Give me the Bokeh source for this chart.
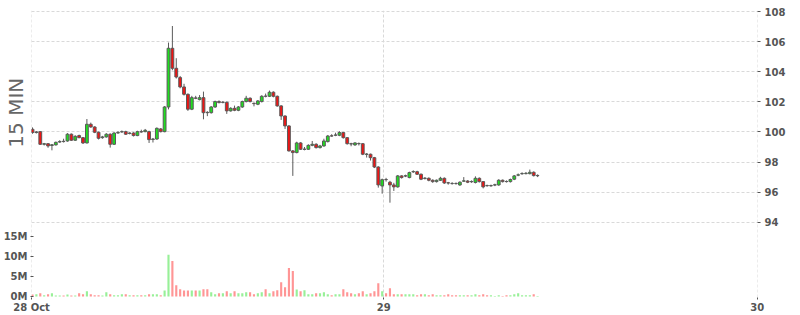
import math
from bokeh.plotting import figure
from bokeh.models import Range1d, LinearAxis, FixedTicker, ColumnDataSource
from bokeh.embed import file_html
from bokeh.resources import INLINE

# ---------------- data ----------------
opens = [100.18, 99.96, 100.02, 99.18, 99.22, 99.10, 99.14, 99.33, 99.38, 99.40,
         99.85, 99.45, 99.76, 99.62, 99.27, 100.51, 100.33, 99.98, 99.62, 99.67,
         99.85, 99.18, 99.93, 100.00, 100.02, 99.90, 99.93, 99.76, 100.02, 100.02,
         100.02, 99.50, 99.53, 100.20, 100.02, 101.66, 105.56, 104.23, 103.61, 102.99,
         102.50, 101.51, 102.26, 102.15, 102.28, 101.30, 101.28, 101.66, 102.02, 101.96,
         101.97, 101.40, 101.57, 101.44, 101.66, 102.02, 102.24, 101.90, 101.84, 102.02,
         102.38, 102.37, 102.64, 102.37, 101.73, 101.06, 100.40, 98.74, 98.63, 99.27,
         98.84, 98.85, 99.11, 99.18, 98.96, 99.07, 99.36, 99.74, 99.78, 99.78,
         99.96, 99.62, 99.22, 99.14, 99.23, 99.22, 98.51, 98.52, 98.29, 97.67,
         96.41, 96.84, 96.66, 96.48, 96.35, 97.08, 97.07, 96.97, 97.35, 97.36,
         97.19, 96.91, 96.92, 96.79, 96.70, 96.79, 96.92, 96.62, 96.58, 96.58,
         96.48, 96.73, 96.74, 96.69, 96.64, 96.92, 96.70, 96.44, 96.42, 96.47,
         96.48, 96.79, 96.71, 96.70, 96.86, 97.13, 97.22, 97.23, 97.23, 97.32,
         97.09]
closes = [99.96, 100.00, 99.18, 99.22, 99.07, 99.15, 99.31, 99.36, 99.36, 99.85,
          99.45, 99.71, 99.62, 99.27, 100.51, 100.33, 99.98, 99.58, 99.67, 99.85,
          99.18, 99.93, 99.96, 100.02, 99.85, 99.93, 99.76, 100.02, 100.00, 100.11,
          99.49, 99.53, 100.24, 100.02, 101.66, 105.56, 104.23, 103.65, 102.99, 102.50,
          101.51, 102.28, 102.24, 102.28, 101.28, 101.28, 101.66, 102.02, 101.95, 101.97,
          101.40, 101.57, 101.44, 101.66, 102.02, 102.24, 102.02, 101.88, 102.06, 102.37,
          102.37, 102.64, 102.37, 101.73, 101.06, 100.40, 98.74, 98.63, 99.27, 98.85,
          98.86, 99.11, 99.18, 98.96, 99.07, 99.40, 99.73, 99.73, 99.80, 99.96,
          99.62, 99.22, 99.20, 99.27, 99.22, 98.52, 98.53, 98.29, 97.67, 96.48,
          96.83, 96.83, 96.48, 96.35, 97.08, 96.97, 97.09, 97.30, 97.37, 97.19,
          96.86, 96.93, 96.79, 96.70, 96.79, 96.92, 96.61, 96.61, 96.57, 96.57,
          96.66, 96.75, 96.66, 96.71, 96.92, 96.70, 96.35, 96.43, 96.44, 96.49,
          96.79, 96.70, 96.70, 96.84, 97.08, 97.15, 97.24, 97.25, 97.32, 97.10,
          97.11]
highs = [100.30, 100.06, 100.06, 99.27, 99.26, 99.20, 99.36, 99.45, 99.55, 99.92,
         99.90, 99.78, 99.82, 99.66, 100.86, 100.62, 100.38, 100.02, 99.74, 99.92,
         99.90, 99.98, 100.05, 100.10, 100.08, 99.98, 99.98, 100.08, 100.15, 100.20,
         100.08, 99.60, 100.30, 100.26, 101.72, 105.94, 107.04, 104.90, 103.72, 103.20,
         102.56, 102.40, 102.40, 102.45, 102.68, 101.38, 101.72, 102.08, 102.10, 102.05,
         102.02, 101.64, 101.75, 101.72, 102.08, 102.40, 102.30, 101.96, 102.12, 102.44,
         102.55, 102.75, 102.70, 102.42, 101.78, 101.10, 100.45, 98.80, 99.35, 99.32,
         99.00, 99.18, 99.40, 99.25, 99.14, 99.55, 99.80, 99.85, 99.95, 100.05,
         100.00, 99.66, 99.28, 99.32, 99.30, 99.26, 98.60, 98.56, 98.34, 97.72,
         96.90, 96.95, 96.75, 96.62, 97.14, 97.12, 97.16, 97.36, 97.45, 97.42,
         97.24, 97.00, 96.98, 96.85, 96.84, 97.02, 96.98, 96.68, 96.66, 96.64,
         96.72, 97.00, 96.80, 96.78, 97.05, 96.98, 96.74, 96.50, 96.50, 96.56,
         96.86, 96.84, 96.78, 96.90, 97.14, 97.24, 97.32, 97.34, 97.50, 97.38,
         97.18]
lows = [99.88, 99.90, 99.14, 99.10, 98.95, 98.78, 99.10, 99.28, 99.30, 99.35,
        99.40, 99.40, 99.58, 99.20, 99.24, 100.28, 99.92, 99.50, 99.55, 99.62,
        98.96, 99.14, 99.88, 99.95, 99.80, 99.84, 99.70, 99.72, 99.95, 99.98,
        99.27, 99.30, 99.48, 99.97, 99.98, 101.50, 104.10, 103.55, 102.90, 102.42,
        101.40, 101.45, 102.18, 102.10, 100.84, 101.05, 101.22, 101.60, 101.90, 101.90,
        101.20, 101.35, 101.38, 101.38, 101.60, 101.96, 101.96, 101.70, 101.78, 101.96,
        102.30, 102.32, 102.30, 101.68, 100.80, 100.20, 98.70, 97.08, 98.58, 98.80,
        98.78, 98.80, 99.05, 98.90, 98.90, 99.02, 99.30, 99.68, 99.72, 99.72,
        99.56, 99.16, 99.05, 99.08, 99.10, 98.46, 98.30, 98.10, 97.60, 96.30,
        95.90, 96.70, 95.30, 96.08, 96.30, 96.90, 97.00, 96.92, 97.28, 97.14,
        96.80, 96.84, 96.72, 96.62, 96.64, 96.74, 96.55, 96.50, 96.50, 96.50,
        96.42, 96.68, 96.60, 96.62, 96.58, 96.64, 96.25, 96.36, 96.36, 96.40,
        96.42, 96.64, 96.64, 96.64, 96.80, 97.06, 97.16, 97.18, 97.18, 97.04,
        97.00]
volumes_m = [0.5, 0.58, 0.83, 0.33, 0.58, 0.83, 0.25, 0.25, 0.25, 0.5,
             0.25, 0.25, 0.83, 0.58, 1.33, 0.58, 0.33, 0.33, 0.25, 1.08,
             0.58, 0.33, 0.33, 0.58, 0.58, 0.33, 0.33, 0.33, 0.33, 0.33,
             0.58, 0.58, 0.58, 0.33, 1.5, 10.4, 8.83, 2.83, 1.83, 1.5,
             1.5, 1.5, 1.5, 1.5, 1.83, 1.83, 1.08, 0.58, 0.83, 0.83,
             1.33, 0.83, 1.33, 0.83, 0.83, 1.08, 1.08, 0.58, 0.83, 1.08,
             1.83, 0.83, 1.33, 1.58, 3.58, 2.33, 7.08, 6.33, 1.75, 1.33,
             1.58, 0.58, 0.58, 0.83, 0.83, 1.08, 0.58, 0.33, 0.58, 0.58,
             1.83, 1.08, 0.83, 0.58, 0.83, 1.33, 0.58, 0.83, 1.33, 3.33,
             1.33, 0.83, 2.08, 0.58, 0.58, 0.58, 0.58, 0.58, 0.58, 0.33,
             0.58, 0.58, 0.33, 0.58, 0.33, 0.33, 0.33, 0.58, 0.33, 0.33,
             0.33, 0.33, 0.33, 0.33, 0.58, 0.33, 0.58, 0.33, 0.33, 0.15,
             0.33, 0.15, 0.33, 0.33, 0.58, 0.83, 0.33, 0.33, 0.33, 0.58,
             0.15]

price_ticks = [94, 96, 98, 100, 102, 104, 106, 108]
volume_ticks = [0, 5, 10, 15]
volume_tick_labels = ["0M", "5M", "10M", "15M"]
day_ticks = [-0.24, 90.4, 186.55]
day_labels = ["28 Oct", "29", "30"]
chart_label = "15 MIN"

# ---------------- derived ----------------
idx = list(range(len(opens)))
up = [c >= o for o, c in zip(opens, closes)]
src = ColumnDataSource(dict(
    x=idx, o=opens, c=closes, h=highs, l=lows, v=volumes_m,
    top=[max(o, c) for o, c in zip(opens, closes)],
    bot=[min(o, c) for o, c in zip(opens, closes)],
    fill=["#1fe01f" if u else "#f01414" for u in up],
    vfill=["#98f098" if u else "#ff9595" for u in up],
))

p = figure(width=800, height=315, output_backend="svg", toolbar_location=None,
           x_range=Range1d(-0.26, 186.6), y_range=Range1d(89.0, 108.07),
           y_axis_location="right",
           min_border_left=31, min_border_right=43, min_border_top=10, min_border_bottom=18)
p.outline_line_color = None
p.background_fill_color = "white"
p.border_fill_color = "white"
p.extra_y_ranges = {"vol": Range1d(-0.25, 71.25)}

GRID = "#d9d9d9"
TXT = "#555555"

# price axis (right)
pax = p.yaxis[0]
pticker = FixedTicker(ticks=price_ticks)
pax.ticker = pticker
p.ygrid.ticker = pticker
# time axis (bottom)
xax = p.xaxis[0]
xticker = FixedTicker(ticks=day_ticks)
xax.ticker = xticker
p.xgrid.ticker = xticker
xax.major_label_overrides = {t: s for t, s in zip(day_ticks, day_labels)}

# volume axis (left)
vax = LinearAxis(y_range_name="vol", ticker=FixedTicker(ticks=volume_ticks),
                 major_label_overrides={t: s for t, s in zip(volume_ticks, volume_tick_labels)})
p.add_layout(vax, "left")

for ax in (pax, xax, vax):
    ax.axis_line_color = None
    ax.minor_tick_line_color = None
    ax.major_tick_line_color = TXT
    ax.major_label_text_font = "DejaVu Sans"
    ax.major_label_text_font_style = "bold"
    ax.major_label_text_font_size = "10px"
    ax.major_label_text_color = TXT
pax.major_tick_in = 0
pax.major_tick_out = 3
pax.major_label_standoff = 4
xax.major_tick_in = 0
xax.major_tick_out = 2
xax.major_label_standoff = 2
vax.major_tick_in = 2
vax.major_tick_out = 1
vax.major_label_standoff = 3

# caption axis on the left carrying "15 MIN"; the label is centred on the frame, so
# no-break spaces in front of it lift the visible text into the upper (price) pane
lax = LinearAxis(ticker=FixedTicker(ticks=[]),
                 axis_label="\u00a0" * 13 + chart_label, axis_label_standoff=-27,
                 axis_label_text_font="DejaVu Sans", axis_label_text_font_size="20px",
                 axis_label_text_font_style="normal", axis_label_text_color="#666666",
                 axis_line_color=None, major_tick_line_color=None, minor_tick_line_color=None,
                 major_label_text_font_size="0px")
p.add_layout(lax, "left")

for g in (p.xgrid[0], p.ygrid[0]):
    g.grid_line_color = GRID
    g.grid_line_dash = "3 2"
    g.grid_line_width = 1

# volume bars
p.vbar(x="x", top="v", bottom=0, width=0.55, fill_color="vfill", line_color=None,
       source=src, y_range_name="vol")
# candles
p.segment(x0="x", y0="l", x1="x", y1="h", line_color="#5a5a5a", line_width=1, source=src)
p.vbar(x="x", top="top", bottom="bot", width=0.72, fill_color="fill",
       line_color="#5a5a5a", line_width=1, source=src)

open("out.html", "w").write(file_html(p, INLINE))
